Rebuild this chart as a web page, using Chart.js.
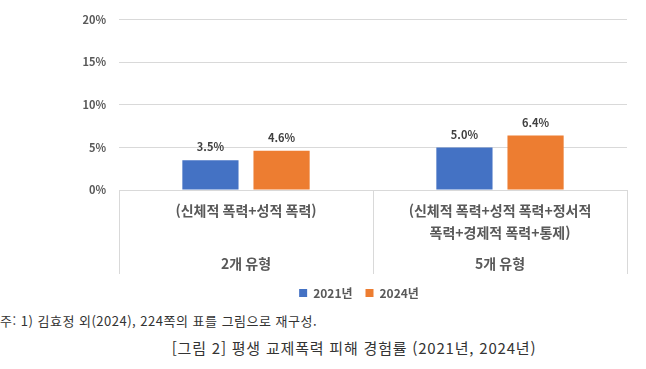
<!DOCTYPE html>
<html lang="ko">
<head>
<meta charset="utf-8">
<script src="https://cdn.jsdelivr.net/npm/chart.js@4/dist/chart.umd.min.js"></script>
<style>
    html, body { margin: 0; padding: 0; background: #fff; }
    #wrap { position: relative; width: 646px; height: 369px; overflow: hidden; }
    #chart-box { position: absolute; left: 0; top: 0; width: 646px; height: 309px; }
    #note {
        position: absolute; left: 0; top: 311px;
        font: 13px "Noto Sans CJK KR", sans-serif; color: #333;
        letter-spacing: 0.5px; white-space: nowrap;
    }
    #caption {
        position: absolute; left: 0; width: 708px; top: 337px; text-align: center;
        font: 15px "Noto Sans CJK KR", sans-serif; color: #333;
        letter-spacing: 0.8px; white-space: nowrap;
    }
</style>
</head>
<body>
<div id="wrap">
    <div id="chart-box"><canvas id="violence-chart" width="646" height="309"></canvas></div>
    <div id="note">주: 1) 김효정 외(2024), 224쪽의 표를 그림으로 재구성.</div>
    <div id="caption">[그림 2] 평생 교제폭력 피해 경험률 (2021년, 2024년)</div>
</div>
<script>
// Chart data
const categories = ['2개 유형', '5개 유형'];
const categoryDetails = [
    ['(신체적 폭력+성적 폭력)'],
    ['(신체적 폭력+성적 폭력+정서적', '폭력+경제적 폭력+통제)']
];
const seriesLabels = ['2021년', '2024년'];
const values2021 = [3.5, 5.0];
const values2024 = [4.6, 6.4];
const yTicks = [0, 5, 10, 15, 20];

const TEXT_COLOR = '#595959';
const GRID_COLOR = '#d9d9d9';
const KO_FONT = '"Noto Sans CJK KR", "Noto Sans", sans-serif';

/**
 * Lets the y tick labels use the space left of the layout padding
 */
const widenYLabels = {
    id: 'widenYLabels',
    afterLayout(chart) {
        chart.scales.y.left = 0;
    }
};

/**
 * Draws value labels above each bar
 */
const valueLabels = {
    id: 'valueLabels',
    afterDatasetsDraw(chart) {
        const ctx = chart.ctx;
        ctx.save();
        ctx.font = 'bold 11px ' + KO_FONT;
        ctx.fillStyle = '#404040';
        ctx.textAlign = 'center';
        ctx.textBaseline = 'middle';
        chart.data.datasets.forEach((ds, di) => {
            chart.getDatasetMeta(di).data.forEach((bar, i) => {
                ctx.fillText(ds.data[i].toFixed(1) + '%', bar.x, bar.y - 13);
            });
        });
        ctx.restore();
    }
};

/**
 * Draws the two-level category labels inside the axis box
 */
const categoryBox = {
    id: 'categoryBox',
    afterDraw(chart) {
        const ctx = chart.ctx;
        const x = chart.scales.x;
        const top = chart.chartArea.bottom;
        ctx.save();
        ctx.fillStyle = TEXT_COLOR;
        ctx.textAlign = 'center';
        ctx.textBaseline = 'middle';
        ctx.font = 'bold 14px ' + KO_FONT;
        categories.forEach((cat, i) => {
            const cx = x.getPixelForTick(i);
            categoryDetails[i].forEach((line, li) => {
                ctx.fillText(line, cx, top + 21 + li * 21.5);
            });
            ctx.fillText(cat, cx, top + 74);
        });
        ctx.restore();
    }
};

new Chart(document.getElementById('violence-chart'), {
    type: 'bar',
    data: {
        labels: categories,
        datasets: [
            {
                label: seriesLabels[0],
                data: values2021,
                backgroundColor: '#4472c4',
                categoryPercentage: 0.56,
                barPercentage: 0.79
            },
            {
                label: seriesLabels[1],
                data: values2024,
                backgroundColor: '#ed7d31',
                categoryPercentage: 0.56,
                barPercentage: 0.79
            }
        ]
    },
    options: {
        responsive: false,
        animation: false,
        layout: { padding: { left: 91, right: 19, top: 19, bottom: 0 } },
        scales: {
            x: {
                grid: {
                    display: true,
                    drawOnChartArea: false,
                    drawTicks: true,
                    tickLength: 84,
                    color: GRID_COLOR,
                    offset: true
                },
                border: { display: true, color: GRID_COLOR },
                ticks: { display: false },
                afterFit(scale) { scale.height = 84; }
            },
            y: {
                min: 0,
                max: 20,
                afterBuildTicks(scale) {
                    scale.ticks = yTicks.map(v => ({ value: v }));
                },
                grid: { color: GRID_COLOR, drawTicks: false },
                border: { display: false },
                ticks: {
                    padding: 13,
                    color: TEXT_COLOR,
                    font: { family: KO_FONT, size: 11, weight: 'bold' },
                    callback: v => v + '%'
                },
                afterFit(scale) { scale.width = 28; }
            }
        },
        plugins: {
            legend: {
                position: 'bottom',
                labels: {
                    boxWidth: 8,
                    boxHeight: 8,
                    padding: 13,
                    color: TEXT_COLOR,
                    font: { family: KO_FONT, size: 12, weight: 'bold' }
                }
            },
            tooltip: { enabled: false }
        }
    },
    plugins: [widenYLabels, valueLabels, categoryBox]
});
</script>
</body>
</html>
